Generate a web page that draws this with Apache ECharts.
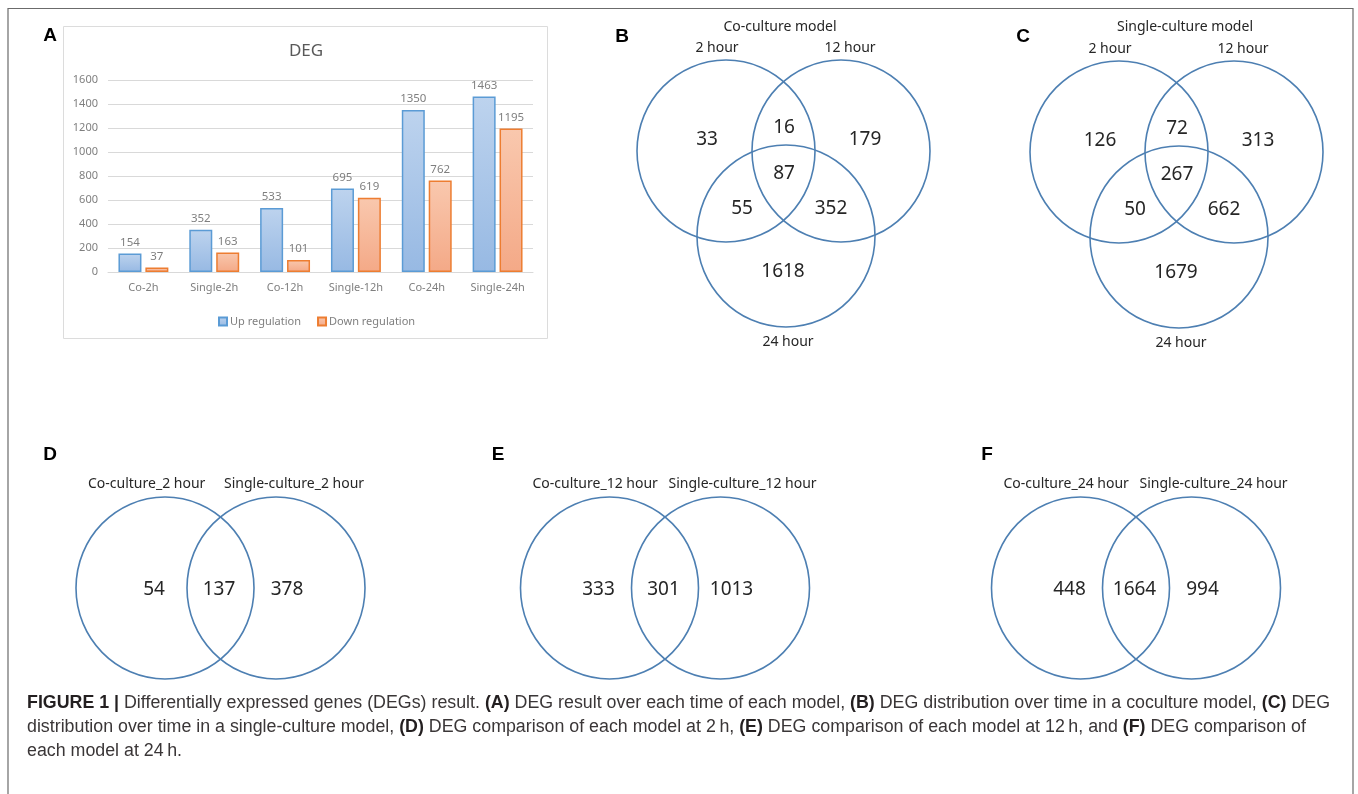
<!DOCTYPE html>
<html>
<head>
<meta charset="utf-8">
<title>DEG figure</title>
<script src="https://cdn.jsdelivr.net/npm/echarts@6/dist/echarts.min.js"></script>
<style>
  html, body { margin: 0; padding: 0; background: #fff; }
  #fig { width: 1358px; height: 794px; }
</style>
</head>
<body>
<div id="fig"></div>
<script>
// ---------- data ----------
var categories = ['Co-2h', 'Single-2h', 'Co-12h', 'Single-12h', 'Co-24h', 'Single-24h'];
var upRegulation = [154, 352, 533, 695, 1350, 1463];
var downRegulation = [37, 163, 101, 619, 762, 1195];

// three-set venn regions: only 2h, only 12h, only 24h, 2h&12h, 2h&24h, 12h&24h, all
var timeSets = ['2 hour', '12 hour', '24 hour'];
var coCultureCounts = [33, 179, 1618, 16, 55, 352, 87];
var singleCultureCounts = [126, 313, 1679, 72, 50, 662, 267];

// two-set venn regions: co only, both, single only
var counts2h = [54, 137, 378];
var counts12h = [333, 301, 1013];
var counts24h = [448, 1664, 994];

// ---------- layout ----------
var vennColor = '#4d7fb2';
var labelFont = '"Noto Sans", "Open Sans", sans-serif';
var rx = 89, ry = 91;
// circle centres relative to the first circle (three-set)
var tri = [[0, 0], [115, 0], [60, 85]];
// number positions for regions, same order as the count arrays
var triText = [[-19, -11], [139, -11], [57, 121], [58, -23], [16, 58], [105, 58], [58, 23]];
var triLabels = [[-9, -103], [124, -103], [62, 191]];
var duoText = [[-11, 2], [54, 2], [122, 2]];

var graphics = [];

function circle(cx, cy) {
  graphics.push({
    type: 'ellipse', shape: { cx: cx, cy: cy, rx: rx, ry: ry },
    style: { fill: 'none', stroke: vennColor, lineWidth: 1.6 }, silent: true
  });
}
function label(x, y, text, size, align, color, weight, font) {
  graphics.push({
    type: 'text', x: x, y: y,
    style: {
      text: text, fontSize: size, fontFamily: font || labelFont,
      fontWeight: weight || 'normal', fill: color || '#262626',
      align: align || 'center', verticalAlign: 'middle'
    }, silent: true
  });
}

function triVenn(ox, oy, title, titleX, counts) {
  tri.forEach(function (c) { circle(ox + c[0], oy + c[1]); });
  label(titleX, 27, title, 14);
  timeSets.forEach(function (s, i) { label(ox + triLabels[i][0], oy + triLabels[i][1], s, 14); });
  counts.forEach(function (v, i) { label(ox + triText[i][0], oy + triText[i][1], String(v), 19); });
}
function duoVenn(ox, oy, hour, counts) {
  circle(ox, oy); circle(ox + 111, oy);
  label(ox - 77, 484, 'Co-culture_' + hour, 14, 'left');
  label(ox + 59, 484, 'Single-culture_' + hour, 14, 'left');
  counts.forEach(function (v, i) { label(ox + duoText[i][0], oy + duoText[i][1], String(v), 19); });
}

// figure frame
graphics.push({
  type: 'polyline', shape: { points: [[8, 800], [8, 8.5], [1353, 8.5], [1353, 800]] },
  style: { fill: 'none', stroke: '#6b6b6b', lineWidth: 1.2 }, silent: true
});
// panel A box
graphics.push({
  type: 'rect', shape: { x: 63.5, y: 26.5, width: 484, height: 312 },
  style: { fill: 'none', stroke: '#dcdcdc', lineWidth: 1 }, silent: true
});
label(306, 51, 'DEG', 17, 'center', '#595959');

var letterFont = '"Liberation Sans", Arial, sans-serif';
[['A', 50, 36], ['B', 622, 37], ['C', 1023, 37], ['D', 50, 455], ['E', 498, 455], ['F', 987, 455]]
  .forEach(function (l) { label(l[1], l[2], l[0], 19, 'center', '#000', 'bold', letterFont); });

triVenn(726, 151, 'Co-culture model', 780, coCultureCounts);
triVenn(1119, 152, 'Single-culture model', 1185, singleCultureCounts);
duoVenn(165, 588, '2 hour', counts2h);
duoVenn(609.5, 588, '12 hour', counts12h);
duoVenn(1080.5, 588, '24 hour', counts24h);

// caption, squeezed to the width of the printed caption
var captionLines = [
  [['b', 'FIGURE 1 |'], ['n', ' Differentially expressed genes (DEGs) result. '], ['b', '(A)'],
   ['n', ' DEG result over each time of each model, '], ['b', '(B)'],
   ['n', ' DEG distribution over time in a coculture model, '], ['b', '(C)'], ['n', ' DEG']],
  [['n', 'distribution over time in a single-culture model, '], ['b', '(D)'],
   ['n', ' DEG comparison of each model at 2\u2009h, '], ['b', '(E)'],
   ['n', ' DEG comparison of each model at 12\u2009h, and '], ['b', '(F)'], ['n', ' DEG comparison of']],
  [['n', 'each model at 24\u2009h.']]
];
var capSize = 18, capFamily = '"Liberation Sans", Arial, sans-serif';
var ctx = document.createElement('canvas').getContext('2d');
function segWidth(seg) {
  ctx.font = (seg[0] === 'b' ? 'bold ' : '') + capSize + 'px ' + capFamily;
  return ctx.measureText(seg[1]).width;
}
var line1Width = captionLines[0].reduce(function (s, seg) { return s + segWidth(seg); }, 0);
var capScale = 1303 / line1Width;
captionLines.forEach(function (line, i) {
  graphics.push({
    type: 'text', x: 27, y: 703 + i * 24, scaleX: capScale,
    style: {
      text: line.map(function (seg) { return '{' + seg[0] + '|' + seg[1] + '}'; }).join(''),
      verticalAlign: 'middle', align: 'left',
      rich: {
        b: { fontSize: capSize, fontFamily: capFamily, fontWeight: 'bold', fill: '#231f20' },
        n: { fontSize: capSize, fontFamily: capFamily, fill: '#3a3637' }
      }
    }, silent: true
  });
});

// ---------- chart ----------
var chart = echarts.init(document.getElementById('fig'));
var axisText = { color: '#7f7f7f', fontSize: 11, fontFamily: labelFont };

var option = {
  backgroundColor: '#fff',
  animation: false,
  legend: {
    left: 213, top: 311, icon: 'rect', itemWidth: 8, itemHeight: 8, itemGap: 16,
    textStyle: { color: '#7f7f7f', fontSize: 11, fontFamily: labelFont, padding: [0, 0, 0, -2] },
    data: ['Up regulation', 'Down regulation']
  },
  grid: { left: 108, right: 825, top: 80, bottom: 522 },
  xAxis: {
    type: 'category', data: categories,
    axisLine: { lineStyle: { color: '#d9d9d9' } },
    axisTick: { show: false },
    axisLabel: Object.assign({ margin: 10 }, axisText)
  },
  yAxis: {
    type: 'value', min: 0, max: 1600, interval: 200,
    axisLine: { show: false }, axisTick: { show: false },
    axisLabel: Object.assign({ margin: 10, formatter: function (v) { return String(v); } }, axisText),
    splitLine: { lineStyle: { color: '#d9d9d9' } }
  },
  series: [
    {
      name: 'Up regulation', type: 'bar', data: upRegulation,
      barWidth: 23, barGap: '17%',
      itemStyle: {
        color: new echarts.graphic.LinearGradient(0, 0, 0, 1, [
          { offset: 0, color: '#bdd3ee' }, { offset: 1, color: '#97b9e3' }]),
        borderColor: '#5b9bd5', borderWidth: 1.5
      },
      label: { show: true, position: 'top', distance: 5, color: '#7f7f7f', fontSize: 11.5, fontFamily: labelFont }
    },
    {
      name: 'Down regulation', type: 'bar', data: downRegulation,
      barWidth: 23,
      itemStyle: {
        color: new echarts.graphic.LinearGradient(0, 0, 0, 1, [
          { offset: 0, color: '#f9c8ae' }, { offset: 1, color: '#f4a987' }]),
        borderColor: '#ed7d31', borderWidth: 1.5
      },
      label: { show: true, position: 'top', distance: 5, color: '#7f7f7f', fontSize: 11.5, fontFamily: labelFont }
    }
  ],
  graphic: graphics
};

chart.setOption(option);
</script>
</body>
</html>
